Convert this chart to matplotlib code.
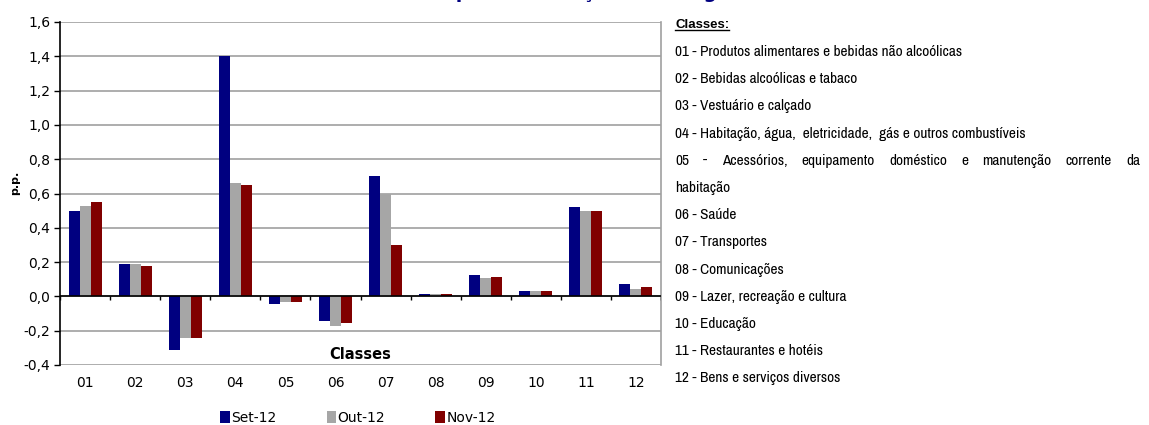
import numpy as np
import matplotlib
matplotlib.use("Agg")
import matplotlib.pyplot as plt
from matplotlib import font_manager
import matplotlib.transforms as mtransforms

# data
classes = ["01", "02", "03", "04", "05", "06", "07", "08", "09", "10", "11", "12"]
series = ["Set-12", "Out-12", "Nov-12"]
set12 = [0.50, 0.19, -0.31, 1.40, -0.045, -0.145, 0.70, 0.015, 0.125, 0.03, 0.52, 0.07]
out12 = [0.53, 0.19, -0.24, 0.66, -0.035, -0.175, 0.60, 0.015, 0.105, 0.03, 0.50, 0.045]
nov12 = [0.55, 0.18, -0.24, 0.65, -0.035, -0.155, 0.30, 0.015, 0.115, 0.03, 0.50, 0.055]
colors = ["#000080", "#A6A6A6", "#800000"]
yticks = [-0.4, -0.2, 0.0, 0.2, 0.4, 0.6, 0.8, 1.0, 1.2, 1.4, 1.6]

class_names = [
    "01 - Produtos alimentares e bebidas não alcoólicas",
    "02 - Bebidas alcoólicas e tabaco",
    "03 - Vestuário e calçado",
    "04 - Habitação, água,  eletricidade,  gás e outros combustíveis",
    "05 - Acessórios, equipamento doméstico e manutenção corrente da",
    "habitação",
    "06 - Saúde",
    "07 - Transportes",
    "08 - Comunicações",
    "09 - Lazer, recreação e cultura",
    "10 - Educação",
    "11 - Restaurantes e hotéis",
    "12 - Bens e serviços diversos",
]

# pick a narrow font for the class list, if there is one
fonts = font_manager.fontManager.ttflist
narrow = None
for f in fonts:
    if "Narrow" in f.name or "Condensed" in f.name:
        narrow = dict(family=f.name)
        break
if narrow is None:
    narrow = dict(family="Liberation Sans")
has_bold = any(f.name == narrow["family"] and f.weight in ("bold", 700, 600, "semibold")
               for f in fonts)
head_font = narrow if has_bold else dict(family="Liberation Sans")

W, H = 1149, 425
fig = plt.figure(figsize=(W / 100, H / 100), dpi=100)
ax = fig.add_axes([60 / W, 1 - 365 / H, 601 / W, 343 / H])

x = np.arange(len(classes))
bw = 0.22
for i, vals in enumerate([set12, out12, nov12]):
    ax.bar(x + (i - 1) * bw, vals, bw, color=colors[i], label=series[i], linewidth=0, zorder=3)

ax.set_xlim(-0.5, len(classes) - 0.5)
ax.set_ylim(-0.4, 1.6)
ax.set_yticks(yticks)
ax.set_yticklabels([f"{v:.1f}".replace(".", ",") for v in yticks], fontsize=10)
ax.yaxis.grid(True, color="#A0A0A0", linewidth=1.2, zorder=0)
ax.tick_params(axis="y", length=4, width=1, direction="out", pad=3)

# x axis at zero with ticks between classes
ax.set_xticks([])
ax.axhline(0, color="black", linewidth=1.2, zorder=4)
ax.vlines(np.arange(len(classes) + 1) - 0.5, -0.022, 0, color="black", linewidth=1, zorder=4)
trans = mtransforms.blended_transform_factory(ax.transData, ax.transAxes)
for xi, c in zip(x, classes):
    ax.text(xi, -0.052, c, transform=trans, ha="center", va="center", fontsize=10)

for s in ["top", "bottom"]:
    ax.spines[s].set_visible(False)
ax.spines["right"].set_color("#A0A0A0")
ax.spines["right"].set_linewidth(1.2)
ax.spines["left"].set_linewidth(1.2)

ax.text(0.5, 0.03, "Classes", transform=ax.transAxes, ha="center", va="center",
        fontsize=10.5, fontweight="bold")
fig.text(15 / W, 1 - 183 / H, "p.p.", rotation=90, ha="center", va="center",
         fontsize=8, fontweight="bold")

leg = fig.legend(loc="center", bbox_to_anchor=(358 / W, 1 - 418 / H), ncol=3, frameon=False,
                 fontsize=10, handlelength=0.7, handleheight=0.9, handletextpad=0.1,
                 columnspacing=3.6, borderpad=0)

# clipped title at the top edge
fig.text(325 / W, 1 + 2 / H, "Contributos para a variação homóloga", color="#000080",
         fontsize=13.5, fontweight="bold", ha="left", va="baseline")

# class list on the right; size fitted so line 01 spans about 306 px
fig.canvas.draw()
renderer = fig.canvas.get_renderer()
probe = fig.text(0, 0, class_names[0], fontsize=10, **narrow)
pw = probe.get_window_extent(renderer).width
probe.remove()
fs = min(11.0, 10 * 306 / pw)

head = fig.text(675 / W, 1 - 25 / H, "Classes:", fontsize=min(fs, 9.5), fontweight="bold",
                ha="left", va="center", **head_font)
ul = head.get_window_extent(renderer)
fig.add_artist(plt.Line2D([ul.x0 / W, ul.x1 / W], [(ul.y0 + 1) / H, (ul.y0 + 1) / H],
                          color="black", linewidth=1, transform=fig.transFigure))

y0, dy = 52, 27.2
right_edge = 1140
for k, line in enumerate(class_names):
    yy = 1 - (y0 + k * dy) / H
    if line.startswith("05"):
        words = line.split()
        arts = [fig.text(0, yy, w, fontsize=fs, ha="left", va="center", **narrow) for w in words]
        widths = [a.get_window_extent(renderer).width for a in arts]
        gap = (right_edge - 675 - sum(widths)) / (len(words) - 1)
        pos = 675
        for a, w in zip(arts, widths):
            a.set_x(pos / W)
            pos += w + gap
    else:
        fig.text(675 / W, yy, line, fontsize=fs, ha="left", va="center", **narrow)

fig.savefig("out.png", dpi=100)
